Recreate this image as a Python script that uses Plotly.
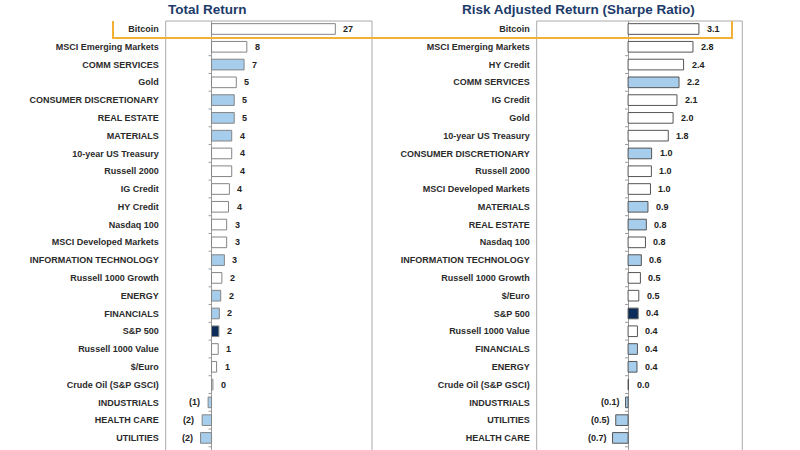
import plotly.graph_objects as go

# ---------------- data ----------------
tr_categories = ["Bitcoin", "MSCI Emerging Markets", "COMM SERVICES", "Gold",
                 "CONSUMER DISCRETIONARY", "REAL ESTATE", "MATERIALS", "10-year US Treasury",
                 "Russell 2000", "IG Credit", "HY Credit", "Nasdaq 100", "MSCI Developed Markets",
                 "INFORMATION TECHNOLOGY", "Russell 1000 Growth", "ENERGY", "FINANCIALS",
                 "S&P 500", "Russell 1000 Value", "$/Euro", "Crude Oil (S&P GSCI)",
                 "INDUSTRIALS", "HEALTH CARE", "UTILITIES"]
tr_values = [27.0, 7.7, 7.1, 5.4, 4.95, 4.95, 4.4, 4.4, 4.4, 3.9, 3.7, 3.3, 3.3,
             2.8, 2.25, 2.0, 1.7, 1.6, 1.45, 1.1, 0.3, -0.75, -2.05, -2.4]

sr_categories = ["Bitcoin", "MSCI Emerging Markets", "HY Credit", "COMM SERVICES",
                 "IG Credit", "Gold", "10-year US Treasury", "CONSUMER DISCRETIONARY",
                 "Russell 2000", "MSCI Developed Markets", "MATERIALS", "REAL ESTATE",
                 "Nasdaq 100", "INFORMATION TECHNOLOGY", "Russell 1000 Growth", "$/Euro",
                 "S&P 500", "Russell 1000 Value", "FINANCIALS", "ENERGY",
                 "Crude Oil (S&P GSCI)", "INDUSTRIALS", "UTILITIES", "HEALTH CARE"]
sr_values = [3.1, 2.84, 2.43, 2.23, 2.14, 1.97, 1.76, 1.03, 1.02, 0.98, 0.87, 0.8,
             0.76, 0.58, 0.54, 0.47, 0.44, 0.41, 0.41, 0.39, 0.02, -0.11, -0.54, -0.68]

sectors = ["COMM SERVICES", "CONSUMER DISCRETIONARY", "REAL ESTATE", "MATERIALS",
           "INFORMATION TECHNOLOGY", "ENERGY", "FINANCIALS", "INDUSTRIALS",
           "HEALTH CARE", "UTILITIES"]
benchmark = "S&P 500"
highlight = "Bitcoin"

titles = ["Total Return", "Risk Adjusted Return (Sharpe Ratio)"]

# ---------------- style ----------------
SECTOR_COLOR = "#a6cdec"
BENCH_COLOR = "#0c2d5a"
OTHER_COLOR = "#ffffff"
TITLE_COLOR = "#1d3b6a"
LABEL_FONT = dict(family="Liberation Sans, Arial", size=9, color="#2b2b2b", weight="bold")
ZERO_COLOR = "#9a9a9a"


def colour(c):
    if c == benchmark:
        return BENCH_COLOR
    if c in sectors:
        return SECTOR_COLOR
    return OTHER_COLOR


def fmt_int(v):
    return f"({abs(v):.0f})" if v < 0 else f"{v:.0f}"


def fmt_1(v):
    return f"({abs(v):.1f})" if v < 0 else f"{v:.1f}"


W, H = 800, 450
left_dom = [165.7 / W, 372.0 / W]
right_dom = [536.7 / W, 742.3 / W]
left_range = [-10, 35]
right_range = [-4, 5]
n = len(tr_categories)
y_range = [23.68, -0.45]

fig = go.Figure()

fig.add_trace(go.Bar(
    x=tr_values, y=tr_categories, orientation="h", xaxis="x", yaxis="y",
    width=0.6, marker=dict(color=[colour(c) for c in tr_categories],
                           line=dict(color="#858585", width=1)),
    hoverinfo="x+y", showlegend=False))
fig.add_trace(go.Bar(
    x=sr_values, y=sr_categories, orientation="h", xaxis="x2", yaxis="y2",
    width=0.6, marker=dict(color=[colour(c) for c in sr_categories],
                           line=dict(color="#555555", width=1)),
    hoverinfo="x+y", showlegend=False))

common_y = dict(type="category", range=y_range, showgrid=False, zeroline=False,
                showline=False, ticks="", tickfont=LABEL_FONT, ticklabelstandoff=6)
common_x = dict(showgrid=False, zeroline=True, zerolinecolor=ZERO_COLOR, zerolinewidth=1,
                showline=False, showticklabels=False, ticks="", fixedrange=True)

fig.update_layout(
    width=W, height=H,
    margin=dict(l=0, r=0, t=21, b=0),
    paper_bgcolor="white", plot_bgcolor="white",
    xaxis=dict(domain=left_dom, range=left_range, anchor="y", **common_x),
    xaxis2=dict(domain=right_dom, range=right_range, anchor="y2", **common_x),
    yaxis=dict(anchor="x", categoryarray=tr_categories, categoryorder="array", **common_y),
    yaxis2=dict(anchor="x2", categoryarray=sr_categories, categoryorder="array", **common_y),
)

# small tick marks on the zero line at every row boundary
for xr, yr in (("x", "y"), ("x2", "y2")):
    for i in range(n + 1):
        fig.add_shape(type="line", xref=xr, yref=yr, xsizemode="pixel", xanchor=0,
                      x0=-3, x1=0, y0=i - 0.5, y1=i - 0.5,
                      line=dict(color=ZERO_COLOR, width=1))

# panel frames (left, right and top edges)
for xr, yr in (("x domain", "y domain"), ("x2 domain", "y2 domain")):
    for x0, y0, x1, y1 in ((0, 0, 0, 1), (1, 0, 1, 1), (0, 1, 1, 1)):
        fig.add_shape(type="line", xref=xr, yref=yr, x0=x0, y0=y0, x1=x1, y1=y1,
                      line=dict(color="#aaaaaa", width=1))

# value labels
VAL_FONT = dict(family="Liberation Sans, Arial", size=9, color="#222222", weight="bold")
for c, v in zip(tr_categories, tr_values):
    fig.add_annotation(x=v, y=c, xref="x", yref="y", text=fmt_int(v), showarrow=False,
                       xanchor="left" if v >= 0 else "right",
                       xshift=6 if v >= 0 else -6, font=VAL_FONT)
for c, v in zip(sr_categories, sr_values):
    fig.add_annotation(x=v, y=c, xref="x2", yref="y2", text=fmt_1(v), showarrow=False,
                       xanchor="left" if v >= 0 else "right",
                       xshift=6 if v >= 0 else -4, font=VAL_FONT)

# titles
for t, cx in zip(titles, (207.5 / W, 578.0 / W)):
    fig.add_annotation(x=cx, y=1, xref="paper", yref="paper", text=t, showarrow=False,
                       xanchor="center", yanchor="bottom", yshift=2,
                       font=dict(family="Liberation Sans, Arial", size=13.5,
                                 color=TITLE_COLOR, weight="bold"))

# highlight box around the top row
hi = tr_categories.index(highlight)
fig.add_shape(type="rect", xref="paper", yref="y", x0=113 / W, x1=732 / W,
              y0=hi - 0.65, y1=hi + 0.5, line=dict(color="#f2b134", width=2),
              fillcolor="rgba(0,0,0,0)")

fig.write_html("out.html")
